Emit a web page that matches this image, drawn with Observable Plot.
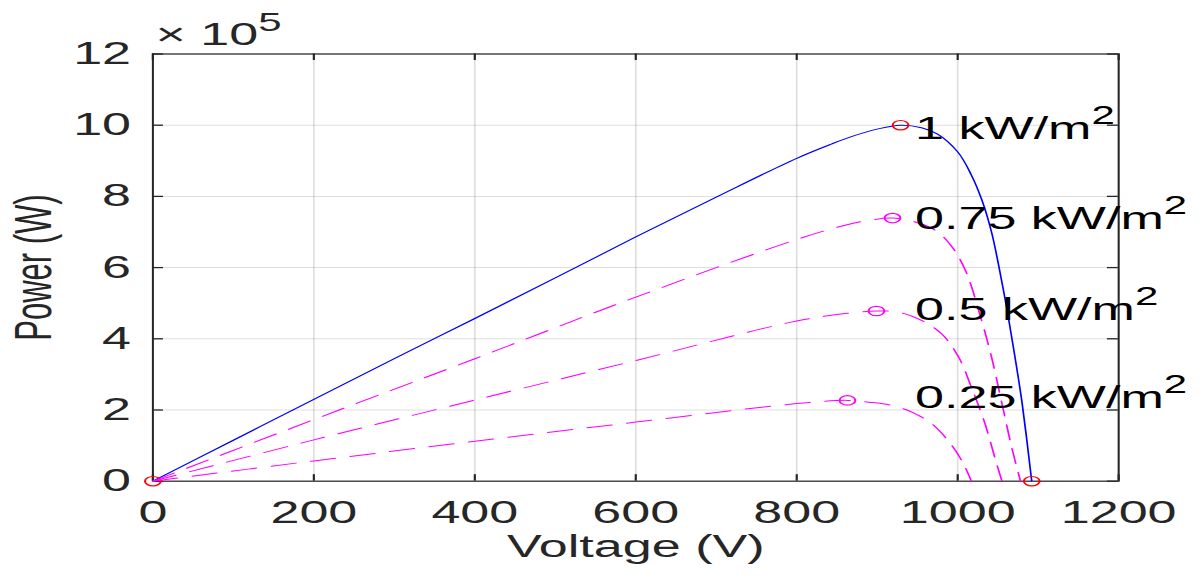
<!DOCTYPE html>
<html>
<head>
<meta charset="utf-8">
<script src="https://cdn.jsdelivr.net/npm/d3@7"></script>
<script src="https://cdn.jsdelivr.net/npm/@observablehq/plot@0.6"></script>
<style>
  html, body { margin: 0; padding: 0; background: #fff; overflow: hidden; }
  #chart svg { transform: scale(1.68, 1); transform-origin: 0 0; display: block; }
</style>
</head>
<body>
<div id="chart"></div>
<script>
// ---- Data (power in units of 10^5 W, voltage in V) ----
const xTicks = [0, 200, 400, 600, 800, 1000, 1200];
const yTicks = [0, 2, 4, 6, 8, 10, 12];
const xDomain = [0, 1200];
const yDomain = [0, 12];

const v100 = [0, 100, 200, 300, 400, 500, 600, 700, 800, 843, 868, 900, 929, 955, 975, 1000, 1017, 1030, 1042, 1051, 1061, 1070, 1080, 1092];
const p100 = [0, 1.15, 2.30, 3.44, 4.57, 5.71, 6.86, 7.98, 9.07, 9.47, 9.68, 9.89, 10.0, 9.93, 9.75, 9.25, 8.60, 7.90, 7.00, 6.05, 4.85, 3.65, 2.20, 0];

const v75 = [0, 200, 400, 600, 800, 860, 890, 919, 947, 972, 993, 1010, 1026, 1042, 1055, 1067, 1078];
const p75 = [0, 1.73, 3.44, 5.17, 6.79, 7.19, 7.33, 7.39, 7.28, 7.05, 6.58, 5.90, 4.80, 3.49, 2.18, 0.96, 0];

const v50 = [0, 200, 400, 600, 800, 860, 899, 926, 955, 980, 1001, 1017, 1034, 1046, 1055];
const p50 = [0, 1.16, 2.28, 3.39, 4.50, 4.71, 4.78, 4.75, 4.52, 4.14, 3.49, 2.64, 1.61, 0.67, 0];

const v25 = [0, 200, 400, 600, 800, 863, 889, 918, 943, 968, 988, 1005, 1017];
const p25 = [0, 0.57, 1.12, 1.66, 2.18, 2.27, 2.22, 2.13, 1.94, 1.61, 1.14, 0.58, 0];

// markers
const redV = [0, 929, 1092];
const redP = [0, 10.0, 0];
const magV = [919, 899, 863];
const magP = [7.39, 4.78, 2.27];

// curve labels
const labelText = ["1 kW/m^2", "0.75 kW/m^2", "0.5 kW/m^2", "0.25 kW/m^2"];
const labelV = [947, 947, 947, 947];
const labelP = [9.89, 7.36, 4.81, 2.34];

const xLabel = "Voltage (V)";
const yLabel = "Power (W)";
const yExponent = "× 10^5";

// ---- build ----
const pts = (v, p) => v.map((d, i) => ({v: d, p: p[i]}));
const s100 = pts(v100, p100), s75 = pts(v75, p75), s50 = pts(v50, p50), s25 = pts(v25, p25);
const reds = pts(redV, redP), mags = pts(magV, magP);
const labels = labelText.map((t, i) => ({t, v: labelV[i], p: labelP[i]}));

const STRETCH = 1.68;
const W = 1201 / STRETCH;
const H = 579;
const mL = 90.5, mR = 49.5, mT = 53.5, mB = 98.3;
const frameW = W - mL - mR, frameH = H - mT - mB;
const AX = "#262626";
const dash = "15,9";
const tickLen = 6.5;
// tick length converted from pixels into data units of each scale
const tx = tickLen * (xDomain[1] - xDomain[0]) / frameW;
const ty = tickLen * (yDomain[1] - yDomain[0]) / frameH;
const fmt = d3.format("d");

const svg = Plot.plot({
  width: W,
  height: H,
  marginLeft: mL,
  marginRight: mR,
  marginTop: mT,
  marginBottom: mB,
  style: {fontFamily: "'Liberation Sans', Arial, Helvetica, sans-serif", fontSize: "31px", color: AX, background: "#fff", overflow: "visible"},
  x: {domain: xDomain},
  y: {domain: yDomain},
  marks: [
    Plot.gridX(xTicks, {stroke: AX, strokeOpacity: 0.15, strokeWidth: 1}),
    Plot.gridY(yTicks, {stroke: AX, strokeOpacity: 0.15, strokeWidth: 1}),
    Plot.axisX({ticks: xTicks, tickFormat: fmt, tickSize: 0, tickPadding: 20, label: null, fill: AX}),
    Plot.axisY({ticks: yTicks, tickFormat: fmt, tickSize: 0, tickPadding: 13, label: null, fill: AX}),
    // inward ticks on all four sides
    Plot.ruleX(xTicks, {x: d => d, y1: yDomain[0], y2: yDomain[0] + ty, stroke: AX, strokeWidth: 1.3}),
    Plot.ruleX(xTicks, {x: d => d, y1: yDomain[1], y2: yDomain[1] - ty, stroke: AX, strokeWidth: 1.3}),
    Plot.ruleY(yTicks, {y: d => d, x1: xDomain[0], x2: xDomain[0] + tx, stroke: AX, strokeWidth: 1.3}),
    Plot.ruleY(yTicks, {y: d => d, x1: xDomain[1], x2: xDomain[1] - tx, stroke: AX, strokeWidth: 1.3}),
    Plot.frame({stroke: AX, strokeWidth: 1.2}),
    Plot.line(s100, {x: "v", y: "p", stroke: "#0000ff", strokeWidth: 1, curve: "catmull-rom"}),
    Plot.dot(reds, {x: "v", y: "p", r: 4.7, stroke: "#ff0000", strokeWidth: 1.2, fill: "none"}),
    Plot.line(s75, {x: "v", y: "p", stroke: "#ff00ff", strokeWidth: 1, strokeDasharray: dash, curve: "catmull-rom"}),
    Plot.line(s50, {x: "v", y: "p", stroke: "#ff00ff", strokeWidth: 1, strokeDasharray: dash, curve: "catmull-rom"}),
    Plot.line(s25, {x: "v", y: "p", stroke: "#ff00ff", strokeWidth: 1, strokeDasharray: dash, curve: "catmull-rom"}),
    Plot.dot(mags, {x: "v", y: "p", r: 4.7, stroke: "#ff00ff", strokeWidth: 1.2, fill: "none"}),
    Plot.text(labels, {x: "v", y: "p", text: "t", textAnchor: "start", lineAnchor: "middle", fill: "#000"}),
    Plot.text([xLabel], {frameAnchor: "bottom", dy: 76.3, lineAnchor: "bottom", textAnchor: "middle", fill: AX}),
    Plot.text([yLabel], {frameAnchor: "left", dx: -60.7, rotate: -90, textAnchor: "middle", lineAnchor: "bottom", fill: AX}),
    Plot.text([yExponent], {frameAnchor: "top-left", dx: 1.5, dy: -8.5, textAnchor: "start", lineAnchor: "bottom", fill: AX})
  ]
});

// superscripts written as "^n"
d3.select(svg).selectAll("text").each(function () {
  const t = this.textContent;
  const i = t.indexOf("^");
  if (i < 0) return;
  this.textContent = t.slice(0, i);
  d3.select(this).append("tspan").attr("dy", -15).attr("font-size", 25).text(t.slice(i + 1));
});

document.getElementById("chart").appendChild(svg);
</script>
</body>
</html>
